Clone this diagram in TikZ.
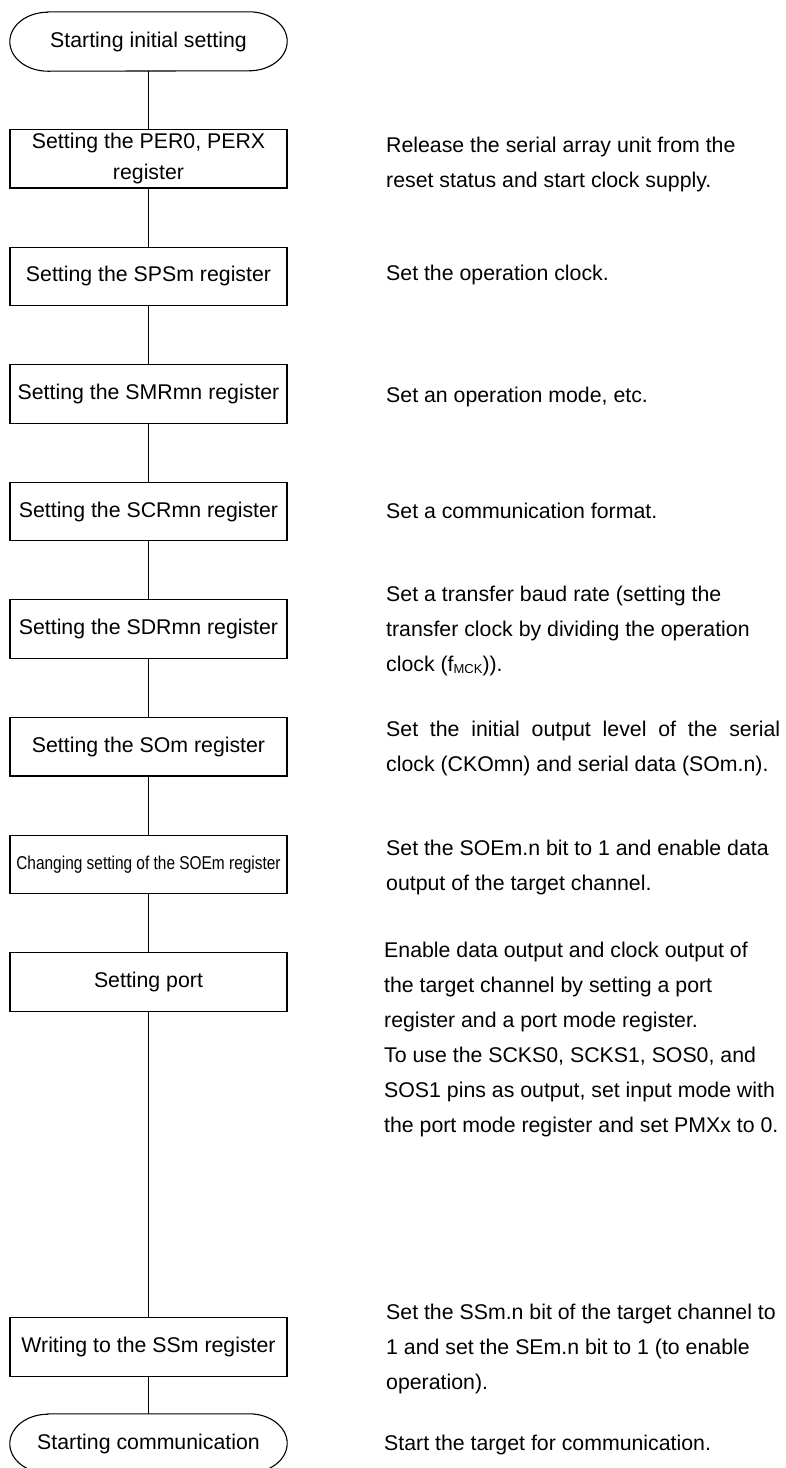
\documentclass[tikz,border=0pt]{standalone}
\usepackage{fontspec}
\setmainfont{Liberation Sans}
\newlength\justwd
\setlength\justwd{394pt}
\tikzset{
  x=1pt, y=1pt,
  conn/.style={line width=1.1pt},
  procbox/.style={draw, line width=1.1pt, minimum width=277pt, minimum height=58.5pt,
    inner sep=0pt, align=center, font=\fontsize{21.3}{31}\selectfont},
  termnode/.style={minimum width=277pt, minimum height=59pt, inner sep=0pt,
    font=\fontsize{21.3}{31}\selectfont},
  desc/.style={anchor=base west, align=left, inner sep=0pt,
    font=\fontsize{21.3}{35}\selectfont},
}
\newcommand\termshape[1]{%
  \draw[line width=1.1pt] ([xshift=38pt]#1.north west) -- ([xshift=-38pt]#1.north east)
    arc[start angle=90, end angle=-90, x radius=38pt, y radius=29.5pt]
    -- ([xshift=38pt]#1.south west)
    arc[start angle=270, end angle=90, x radius=38pt, y radius=29.5pt] -- cycle;}
\begin{document}
\begin{tikzpicture}
\useasboundingbox (0,0) rectangle (786,-1468);
% left column
\node[termnode] (start) at (148.5,-41.5) {Starting initial setting};
\termshape{start}
\node[procbox] (b1) at (148.5,-158.75) {Setting the PER0, PERX\\register};
\node[procbox] (b2) at (148.5,-276.35) {Setting the SPSm register};
\node[procbox] (b3) at (148.5,-393.95) {Setting the SMRmn register};
\node[procbox] (b4) at (148.5,-511.55) {Setting the SCRmn register};
\node[procbox] (b5) at (148.5,-629.15) {Setting the SDRmn register};
\node[procbox] (b6) at (148.5,-746.75) {Setting the SOm register};
\node[procbox] (b7) at (148.5,-864.35) {\fontsize{18.6}{20}\selectfont\scalebox{0.83}[1]{Changing setting of the SOEm register}};
\node[procbox] (b8) at (148.5,-981.95) {Setting port};
\node[procbox] (b9) at (148.5,-1347) {Writing to the SSm register};
\node[termnode] (stop) at (148.5,-1443.5) {Starting communication};
\termshape{stop}
% connectors
\draw[conn] (start.south) -- (b1.north);
\draw[conn] (b1.south) -- (b2.north);
\draw[conn] (b2.south) -- (b3.north);
\draw[conn] (b3.south) -- (b4.north);
\draw[conn] (b4.south) -- (b5.north);
\draw[conn] (b5.south) -- (b6.north);
\draw[conn] (b6.south) -- (b7.north);
\draw[conn] (b7.south) -- (b8.north);
\draw[conn] (b8.south) -- (b9.north);
\draw[conn] (b9.south) -- (stop.north);
% descriptions (base = baseline of last line)
\node[desc] (d1) at (386,-187.5) {Release the serial array unit from the\\reset status and start clock supply.};
\node[desc] (d2) at (386,-280.5) {Set the operation clock.};
\node[desc] (d3) at (386,-402.5) {Set an operation mode, etc.};
\node[desc] (d4) at (386,-518.5) {Set a communication format.};
\node[desc] (d5) at (386,-671.5) {Set a transfer baud rate (setting the\\transfer clock by dividing the operation\\clock (f{\fontsize{13}{13}\selectfont\raisebox{-2pt}{MCK}})).};
\node[desc] (d6) at (386,-771.5) {\makebox[\justwd][s]{Set the initial output level of the serial}\\clock (CKOmn) and serial data (SOm.n).};
\node[desc] (d7) at (386,-890.5) {Set the SOEm.n bit to 1 and enable data\\output of the target channel.};
\node[desc] (d8) at (384,-1132.5) {Enable data output and clock output of\\the target channel by setting a port\\register and a port mode register.\\To use the SCKS0, SCKS1, SOS0, and\\SOS1 pins as output, set input mode with\\the port mode register and set PMXx to 0.};
\node[desc] (d9) at (386,-1389.5) {Set the SSm.n bit of the target channel to\\1 and set the SEm.n bit to 1 (to enable\\operation).};
\node[desc] (d10) at (384,-1450.5) {Start the target for communication.};
\end{tikzpicture}
\end{document}
